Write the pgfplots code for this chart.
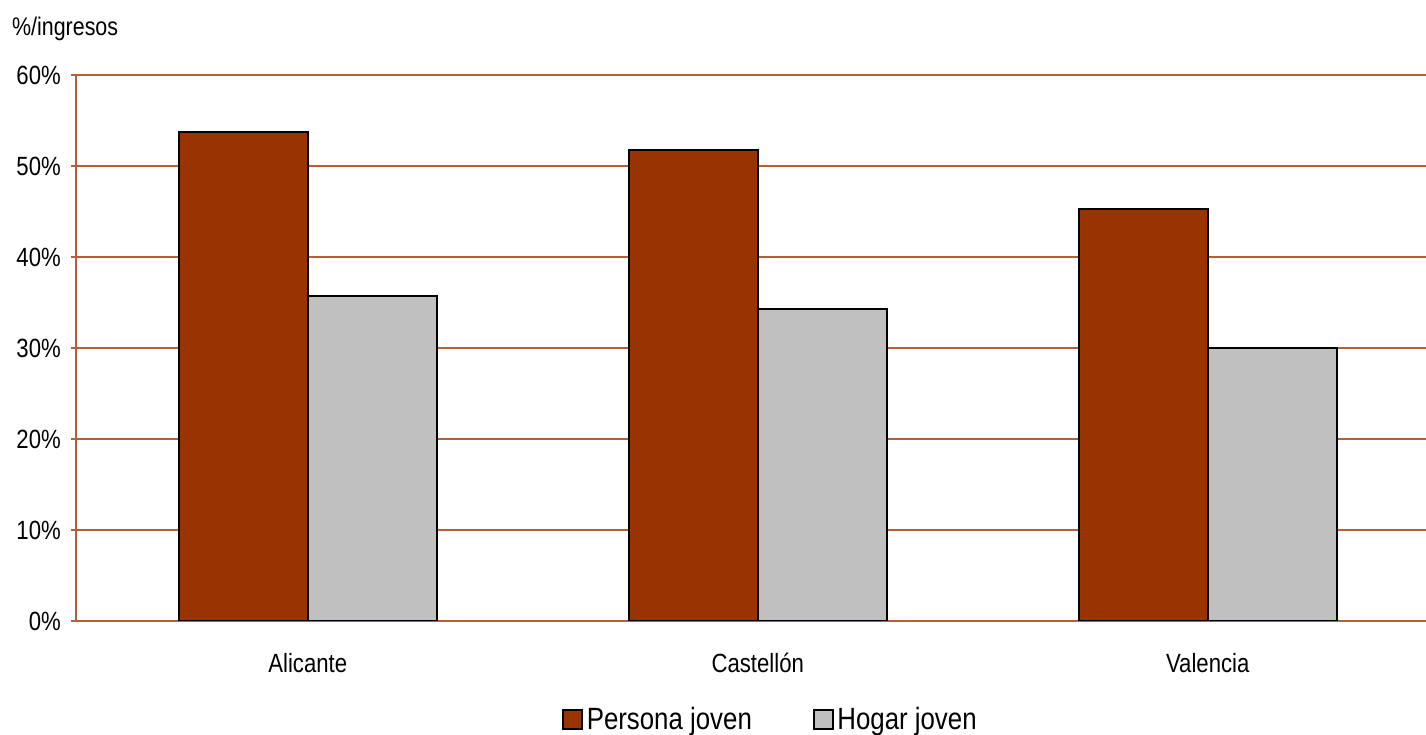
\documentclass[border=0pt]{standalone}
\usepackage{pgfplots}
\pgfplotsset{compat=1.18}
\usepackage{fontspec}
\setmainfont{Liberation Sans}[FakeStretch=0.84]
\definecolor{persona}{RGB}{153,51,0}
\definecolor{hogar}{RGB}{192,192,192}
\definecolor{gridc}{RGB}{180,95,55}
\begin{document}
\begin{tikzpicture}
\useasboundingbox (0,0) rectangle (28.52cm,14.7cm);
\begin{axis}[
  at={(1.52cm,2.28cm)}, anchor=south west,
  scale only axis, width=27cm, height=10.92cm,
  xmin=-0.515, xmax=2.485, ymin=0, ymax=60,
  axis x line=bottom, axis y line=left,
  axis line style={gridc, line width=0.9pt, -},
  ytick={0,10,...,60},
  ymajorgrids, major grid style={gridc, line width=0.9pt},
  xtick={0,1,2}, xticklabels={Alicante,Castellón,Valencia},
  major x tick style={draw=none},
  major y tick style={gridc, line width=0.9pt},
  tick align=outside, major tick length=0.1cm,
  /pgf/number format/assume math mode=true,
  yticklabel={\pgfmathprintnumber{\tick}\%},
  ticklabel style={font=\fontsize{15}{16}\selectfont, text=black},
  xticklabel style={yshift=-0.42cm},
  yticklabel style={xshift=-0.08cm},
  ybar, bar width=2.58cm,
  legend style={at={(0.515,-0.181)}, anchor=center, draw=none, fill=none,
    font=\fontsize{17.5}{19}\selectfont, legend columns=2,
    /tikz/every even column/.append style={column sep=1.15cm}},
  legend image code/.code={\draw[#1, draw=black, line width=1.1pt] (0cm,-0.19cm) rectangle (0.38cm,0.19cm);},
]
\addplot[fill=persona, draw=black, line width=1.1pt, bar shift=-1.29cm] coordinates {(0,53.7) (1,51.8) (2,45.3)};
\addplot[fill=hogar, draw=black, line width=1.1pt, bar shift=1.29cm] coordinates {(0,35.7) (1,34.3) (2,30.0)};
\legend{Persona joven, Hogar joven}
\end{axis}
\node[anchor=west, font=\fontsize{14.5}{16}\selectfont] at (0.12cm,14.12cm) {\%/ingresos};
\end{tikzpicture}
\end{document}
